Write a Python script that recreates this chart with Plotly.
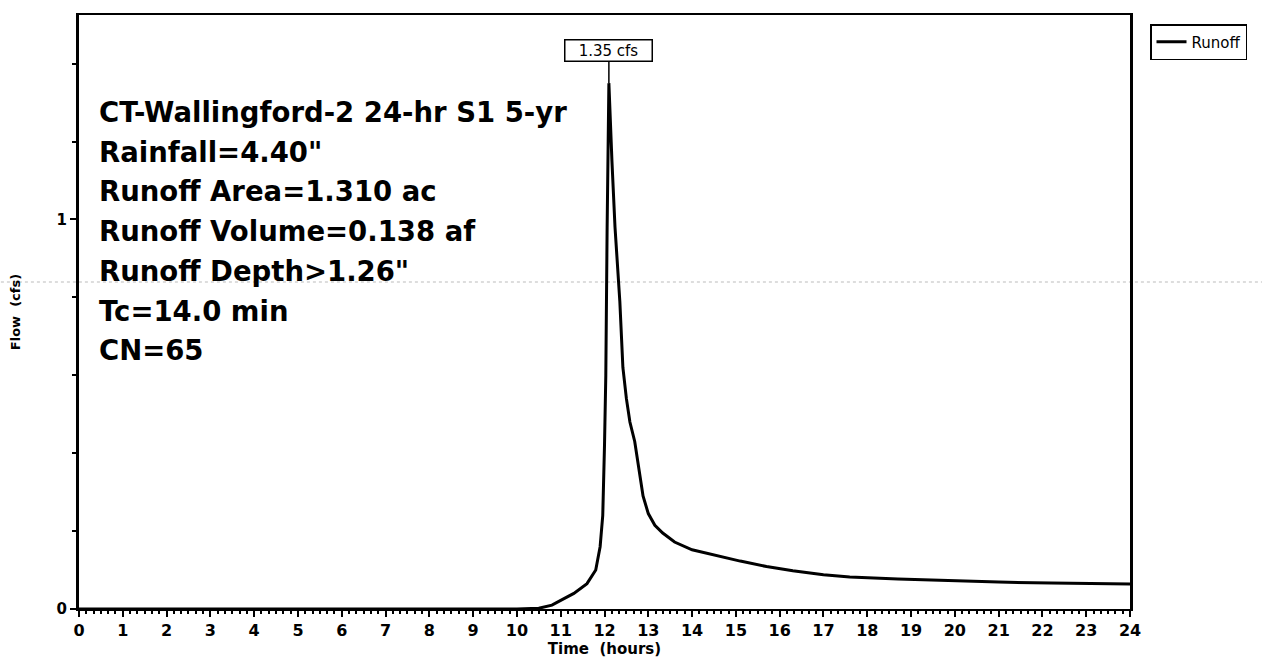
import plotly.graph_objects as go

# ---- data ----
time_hr = [0, 10.0, 10.5, 10.8, 11.0, 11.3, 11.6, 11.8, 11.9, 11.96, 12.0, 12.03, 12.06, 12.1,
           12.17, 12.24, 12.35, 12.42, 12.5, 12.58, 12.69, 12.8, 12.88, 13.0, 13.15, 13.33,
           13.6, 14.0, 14.5, 15.1, 15.7, 16.3, 17.0, 17.6, 18.7, 19.9, 21.0, 22.2, 23.3, 24.0]
flow_cfs = [0, 0, 0.002, 0.01, 0.022, 0.04, 0.065, 0.1, 0.16, 0.24, 0.42, 0.6, 0.98, 1.35,
            1.15, 0.98, 0.79, 0.62, 0.54, 0.48, 0.43, 0.35, 0.29, 0.245, 0.215, 0.195,
            0.172, 0.152, 0.138, 0.123, 0.109, 0.098, 0.088, 0.082, 0.077, 0.072, 0.069, 0.067, 0.064, 0.064]
series_name = "Runoff"
peak_time = 12.1
peak_flow = 1.35
peak_label = "1.35 cfs"
x_ticks = list(range(0, 25))
y_ticks = [0, 1]
info_lines = [
    "CT-Wallingford-2 24-hr S1 5-yr",
    "Rainfall=4.40\"",
    "Runoff Area=1.310 ac",
    "Runoff Volume=0.138 af",
    "Runoff Depth>1.26\"",
    "Tc=14.0 min",
    "CN=65",
]
title_text = "Hydrograph"

FONT = "DejaVu Sans, Verdana, sans-serif"

fig = go.Figure()
fig.add_trace(go.Scatter(
    x=time_hr, y=flow_cfs, mode="lines", name=series_name,
    line=dict(color="black", width=3),
))

# info text lines
W, H = 1262, 664
L, R, T, B = 79, 132, 15, 55
pw = W - L - R
ph = H - T - B
first_y_px = 112
step_px = 39.7
anns = []
for i, line in enumerate(info_lines):
    py = first_y_px + i * step_px
    anns.append(dict(
        x=(97 - L) / pw, y=(H - B - py) / ph, xref="paper", yref="paper",
        xanchor="left", yanchor="middle", showarrow=False,
        text=line, font=dict(family=FONT, size=27.5, color="black", weight="bold"),
    ))

# peak label
anns.append(dict(
    x=peak_time, y=peak_flow, xref="x", yref="y", text=peak_label,
    showarrow=True, arrowhead=0, arrowwidth=1.5, arrowcolor="black",
    ax=0, ay=-33, width=84, height=18, bordercolor="black", borderwidth=1.5, borderpad=1,
    bgcolor="white", font=dict(family=FONT, size=15, color="black"),
))

# cut-off title at the top edge (as in the reference scan)
anns.append(dict(
    x=(560 - L) / pw, y=(H - B - 3) / ph, xref="paper", yref="paper",
    xanchor="center", yanchor="bottom", showarrow=False,
    text=title_text, font=dict(family=FONT, size=20, color="black", weight="bold"),
))

fig.update_layout(
    width=W, height=H,
    margin=dict(l=L, r=R, t=T, b=B),
    paper_bgcolor="white", plot_bgcolor="white",
    font=dict(family=FONT, color="black"),
    showlegend=True,
    legend=dict(
        x=(1150 - L) / pw, y=(H - B - 24) / ph, xanchor="left", yanchor="top",
        bordercolor="black", borderwidth=1.5, bgcolor="white",
        font=dict(family=FONT, size=15, color="black"),
        itemwidth=30, tracegroupgap=0,
    ),
    annotations=anns,
    shapes=[dict(
        type="line", xref="paper", yref="paper",
        x0=-0.08, x1=1.13, y0=(H - B - 282) / ph, y1=(H - B - 282) / ph,
        line=dict(color="#bbbbbb", width=1, dash="dot"), layer="below",
    )],
)

fig.update_xaxes(
    range=[0, 24], tickvals=x_ticks, ticktext=[str(v) for v in x_ticks],
    showline=True, linecolor="black", linewidth=2, mirror=True,
    ticks="outside", ticklen=6, tickwidth=1.5, tickcolor="black",
    tickfont=dict(family=FONT, size=16, color="black", weight="bold"),
    minor=dict(dtick=1/6, ticks="outside", ticklen=3, tickwidth=1.5, tickcolor="black", showgrid=False),
    showgrid=False, zeroline=False,
    title=dict(text="Time  (hours)", font=dict(family=FONT, size=15, color="black", weight="bold"), standoff=0),
)
fig.update_yaxes(
    range=[0, 1.525], tickvals=y_ticks, ticktext=[str(v) for v in y_ticks],
    showline=True, linecolor="black", linewidth=3, mirror=True,
    ticks="outside", ticklen=6, tickwidth=1.5, tickcolor="black",
    tickfont=dict(family=FONT, size=15, color="black", weight="bold"),
    minor=dict(dtick=0.2, ticks="outside", ticklen=4, tickwidth=1.5, tickcolor="black", showgrid=False),
    showgrid=False, zeroline=False,
    title=dict(text="Flow  (cfs)", font=dict(family=FONT, size=13, color="black", weight="bold"), standoff=34),
)

fig.write_html("out.html")
